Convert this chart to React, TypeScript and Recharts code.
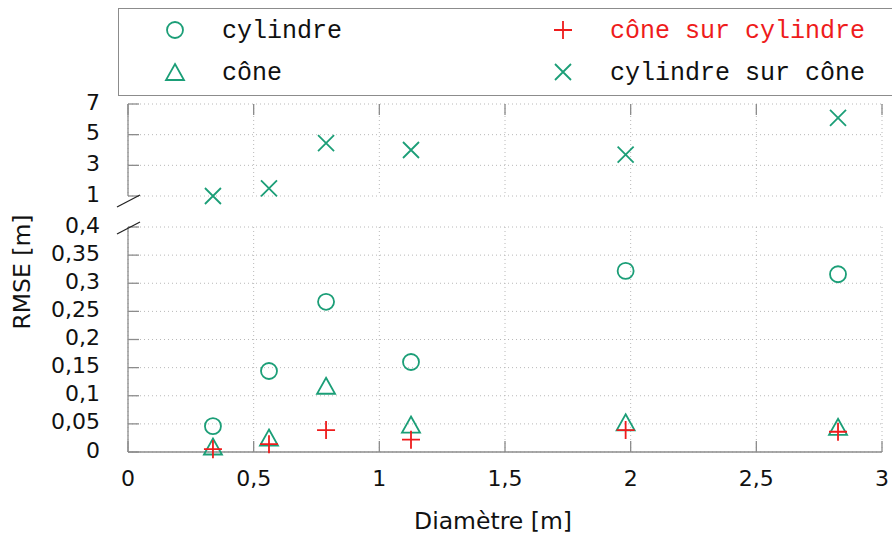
import { ScatterChart, Scatter, XAxis, YAxis, CartesianGrid } from "recharts"

const GREEN = "#1b9e77"
const RED = "#ee1c1c"
const AXIS = "#8c8c8c"
const GRID = "#b8b8b8"
const FONT = "'DejaVu Sans', sans-serif"
const MONO = "'Liberation Mono', monospace"

// diamètres des troncs [m]
const DIAMETRES = [0.338, 0.561, 0.788, 1.126, 1.98, 2.825]
// RMSE par modèle [m]
const CYLINDRE = [0.046, 0.144, 0.267, 0.16, 0.322, 0.316]
const CONE = [0.008, 0.024, 0.116, 0.047, 0.051, 0.043]
const CONE_SUR_CYLINDRE = [0.005, 0.014, 0.039, 0.022, 0.039, 0.036]
const CYLINDRE_SUR_CONE = [1.0, 1.5, 4.45, 4.0, 3.7, 6.1]

const X_TICKS = [0, 0.5, 1, 1.5, 2, 2.5, 3]
const Y_TICKS_LOW = [0, 0.05, 0.1, 0.15, 0.2, 0.25, 0.3, 0.35, 0.4]
const Y_TICKS_HIGH = [1, 3, 5, 7]

const toPoints = (ys: number[]) => ys.map((y, i) => ({ x: DIAMETRES[i], y }))

const fmt = (v: number) => String(v).replace(".", ",")
const tickText = { fontFamily: FONT, fontSize: 22, fill: "#111" }
const titleText = { fontFamily: FONT, fontSize: 23.5, fill: "#111" }

function BottomTick({ x, y, payload }: any) {
  return (
    <g>
      <line x1={x} y1={y} x2={x} y2={y - 11} stroke={AXIS} strokeWidth={1.3} />
      <text x={x} y={y + 26} textAnchor="middle" dominantBaseline="central" {...tickText}>
        {fmt(payload.value)}
      </text>
    </g>
  )
}

function TopTick({ x, y }: any) {
  return <line x1={x} y1={y} x2={x} y2={y + 11} stroke={AXIS} strokeWidth={1.3} />
}

function LeftTick({ x, y, payload }: any) {
  return (
    <g>
      <line x1={x} y1={y} x2={x + 11} y2={y} stroke={AXIS} strokeWidth={1.3} />
      <text x={x - 28} y={y - 2} textAnchor="end" dominantBaseline="central" {...tickText}>
        {fmt(payload.value)}
      </text>
    </g>
  )
}

const Circle = ({ cx, cy }: any) => (
  <circle cx={cx} cy={cy} r={8} fill="none" stroke={GREEN} strokeWidth={1.8} />
)
const Triangle = ({ cx, cy }: any) => (
  <path d={`M${cx},${cy - 9} L${cx + 9},${cy + 7} L${cx - 9},${cy + 7} Z`} fill="none" stroke={GREEN} strokeWidth={1.8} />
)
const Plus = ({ cx, cy, color = RED }: any) => (
  <path d={`M${cx - 9},${cy} H${cx + 9} M${cx},${cy - 9} V${cy + 9}`} stroke={color} strokeWidth={1.8} />
)
const Cross = ({ cx, cy }: any) => (
  <path d={`M${cx - 8},${cy - 8} L${cx + 8},${cy + 8} M${cx - 8},${cy + 8} L${cx + 8},${cy - 8}`} stroke={GREEN} strokeWidth={1.8} />
)

const layer = { position: "absolute" as const, left: 0, top: 0 }

function LegendBox() {
  const row = (y: number, x: number, icon: any, label: string, color: string) => (
    <>
      <svg style={{ position: "absolute", left: x - 12, top: y - 12 }} width={24} height={24}>
        {icon}
      </svg>
      <span
        style={{
          position: "absolute",
          left: x + 47,
          top: y - 12,
          lineHeight: "28px",
          fontFamily: MONO,
          fontSize: 25,
          color,
          whiteSpace: "pre",
        }}
      >
        {label}
      </span>
    </>
  )
  return (
    <div style={{ position: "absolute", left: 118, top: 8, width: 800, height: 86, border: `1px solid ${AXIS}`, background: "#fff" }}>
      <div style={{ position: "relative", left: -119, top: -9 }}>
        {row(30, 175, <Circle cx={12} cy={12} />, "cylindre", "#111")}
        {row(72, 175, <Triangle cx={12} cy={13} />, "cône", "#111")}
        {row(30, 563, <Plus cx={12} cy={12} />, "cône sur cylindre", RED)}
        {row(72, 563, <Cross cx={12} cy={12} />, "cylindre sur cône", "#111")}
      </div>
    </div>
  )
}

export default function App() {
  return (
    <div style={{ ...layer, width: 892, height: 537, overflow: "hidden", background: "#fff" }}>
      {/* partie basse : 0 à 0,4 */}
      <div style={layer}>
        <ScatterChart width={892} height={537} margin={{ top: 227, right: 10, bottom: 0, left: 0 }}>
          <CartesianGrid stroke={GRID} strokeDasharray="1 3" />
          <XAxis
            type="number"
            dataKey="x"
            domain={[0, 3]}
            ticks={X_TICKS}
            interval={0}
            height={85}
            tickSize={0}
            tickMargin={0}
            tickLine={false}
            axisLine={{ stroke: AXIS, strokeWidth: 1.3 }}
            tick={<BottomTick />}
          />
          <YAxis
            type="number"
            dataKey="y"
            domain={[0, 0.4]}
            ticks={Y_TICKS_LOW}
            interval={0}
            width={128}
            tickSize={0}
            tickMargin={0}
            tickLine={false}
            axisLine={{ stroke: AXIS, strokeWidth: 1.3 }}
            tick={<LeftTick />}
          />
          <Scatter data={toPoints(CYLINDRE)} shape={<Circle />} isAnimationActive={false} />
          <Scatter data={toPoints(CONE)} shape={<Triangle />} isAnimationActive={false} />
          <Scatter data={toPoints(CONE_SUR_CYLINDRE)} shape={<Plus />} isAnimationActive={false} />
        </ScatterChart>
      </div>
      {/* partie haute : 1 à 7 */}
      <div style={layer}>
        <ScatterChart width={892} height={537} margin={{ top: 103, right: 10, bottom: 341, left: 0 }}>
          <CartesianGrid stroke={GRID} strokeDasharray="1 3" />
          <XAxis
            type="number"
            dataKey="x"
            orientation="top"
            domain={[0, 3]}
            ticks={X_TICKS}
            interval={0}
            height={1}
            tickSize={0}
            tickMargin={0}
            tickLine={false}
            axisLine={false}
            tick={<TopTick />}
          />
          <YAxis
            type="number"
            dataKey="y"
            domain={[1, 7]}
            ticks={Y_TICKS_HIGH}
            interval={0}
            width={128}
            tickSize={0}
            tickMargin={0}
            tickLine={false}
            axisLine={{ stroke: AXIS, strokeWidth: 1.3 }}
            tick={<LeftTick />}
          />
          <Scatter data={toPoints(CYLINDRE_SUR_CONE)} shape={<Cross />} isAnimationActive={false} />
        </ScatterChart>
      </div>
      {/* coupure de l'axe et titres */}
      <svg style={layer} width={892} height={537}>
        <line x1={117} y1={207} x2={140} y2={195} stroke="#222" strokeWidth={1.3} />
        <line x1={117} y1={234} x2={140} y2={222} stroke="#222" strokeWidth={1.3} />
        <text x={493} y={521} textAnchor="middle" dominantBaseline="central" {...titleText}>
          Diamètre [m]
        </text>
        <text
          x={22}
          y={272}
          textAnchor="middle"
          dominantBaseline="central"
          transform="rotate(-90 22 272)"
          {...titleText}
        >
          RMSE [m]
        </text>
      </svg>
      <LegendBox />
    </div>
  )
}
